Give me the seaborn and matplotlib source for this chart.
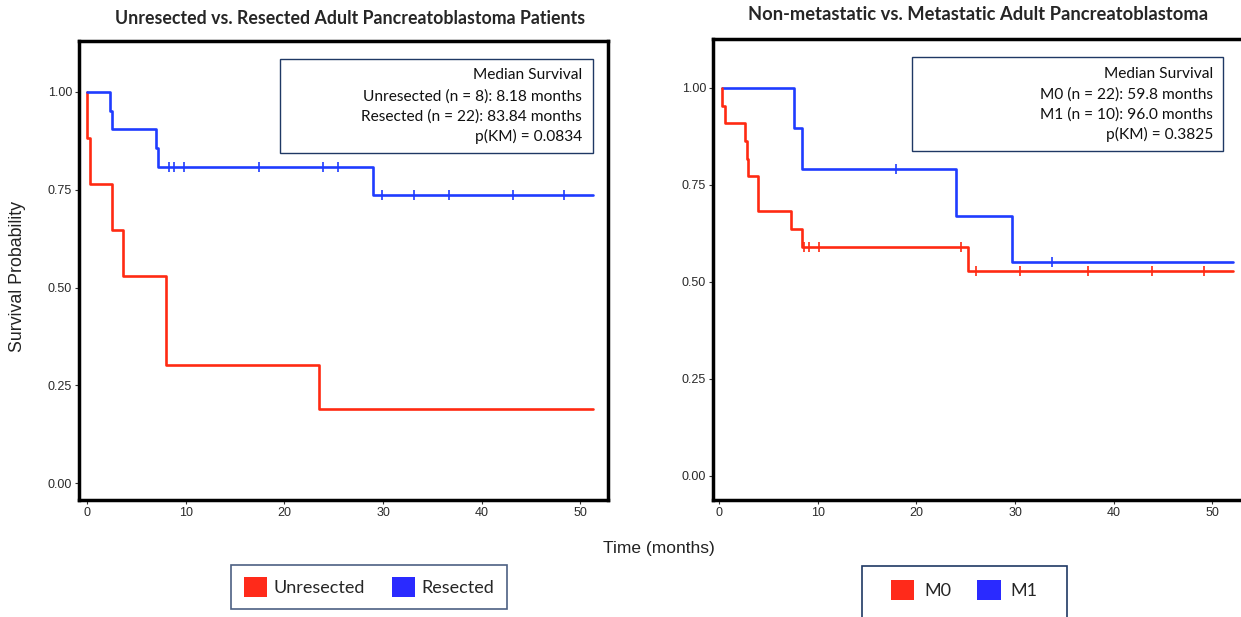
import numpy as np
import pandas as pd
import matplotlib
matplotlib.use("Agg")
import matplotlib.pyplot as plt
from matplotlib.patches import Patch, Rectangle
import seaborn as sns

# ---------------- data ----------------
# Left panel: Unresected vs Resected
unres_times = [0.0, 0.05, 0.3, 2.5, 3.6, 8.0, 23.5, 51.3]
unres_surv = [1.0, 0.882, 0.765, 0.647, 0.529, 0.303, 0.189, 0.189]
unres_cens_t = []
unres_cens_s = []

res_times = [0.0, 2.3, 2.55, 7.0, 7.2, 29.0, 51.3]
res_surv = [1.0, 0.952, 0.904, 0.856, 0.808, 0.736, 0.736]
res_cens_t = [8.3, 8.8, 9.8, 17.4, 23.9, 25.4, 29.9, 33.1, 36.7, 43.2, 48.3]
res_cens_s = [0.808, 0.808, 0.808, 0.808, 0.808, 0.808, 0.736, 0.736, 0.736, 0.736, 0.736]

# Right panel: M0 vs M1
m0_times = [0.3, 0.32, 0.6, 2.62, 2.8, 2.92, 3.95, 7.34, 8.4, 25.2, 52.1]
m0_surv = [1.0, 0.954, 0.909, 0.864, 0.818, 0.773, 0.682, 0.636, 0.591, 0.527, 0.527]
m0_cens_t = [8.67, 9.09, 10.14, 24.5, 26.0, 30.5, 37.4, 43.9, 49.1]
m0_cens_s = [0.591, 0.591, 0.591, 0.591, 0.527, 0.527, 0.527, 0.527, 0.527]

m1_times = [0.3, 7.62, 8.4, 24.0, 29.65, 52.1]
m1_surv = [1.0, 0.896, 0.791, 0.671, 0.551, 0.551]
m1_cens_t = [17.9, 33.7]
m1_cens_s = [0.791, 0.551]

left_title = "Unresected vs. Resected Adult Pancreatoblastoma Patients"
right_title = "Non-metastatic vs. Metastatic Adult Pancreatoblastoma"
left_box = ["Median Survival", "Unresected (n = 8): 8.18 months",
            "Resected (n = 22): 83.84 months", "p(KM) = 0.0834"]
right_box = ["Median Survival", "M0 (n = 22): 59.8 months",
             "M1 (n = 10): 96.0 months", "p(KM) = 0.3825"]
left_groups = ["Unresected", "Resected"]
right_groups = ["M0", "M1"]
x_ticks = [0, 10, 20, 30, 40, 50]
y_ticks = [0.0, 0.25, 0.5, 0.75, 1.0]

RED = "#ff2a12"
BLUE = "#1f3cff"
PATCH_RED = "#ff2a1a"
PATCH_BLUE = "#2a2aff"
BOX_EDGE = "#1f3864"

sns.set_theme(style="white")
plt.rcParams["font.family"] = ["Liberation Sans", "DejaVu Sans"]

fig = plt.figure(figsize=(12.41, 6.17), dpi=100)
axL = fig.add_axes([79 / 1241, 1 - 500 / 617, (608 - 79) / 1241, (500 - 41) / 617])
axR = fig.add_axes([713 / 1241, 1 - 500 / 617, (1246 - 713) / 1241, (500 - 39) / 617])


def draw_curve(ax, t, s, ct, cs, color):
    df = pd.DataFrame({"t": t, "s": s})
    sns.lineplot(data=df, x="t", y="s", ax=ax, color=color, linewidth=1.9,
                 drawstyle="steps-post", estimator=None, sort=False)
    if len(ct):
        cdf = pd.DataFrame({"t": ct, "s": cs})
        sns.scatterplot(data=cdf, x="t", y="s", ax=ax, marker="|", s=45,
                        color=color, linewidth=1.2, zorder=3)


draw_curve(axL, unres_times, unres_surv, unres_cens_t, unres_cens_s, RED)
draw_curve(axL, res_times, res_surv, res_cens_t, res_cens_s, BLUE)
draw_curve(axR, m1_times, m1_surv, m1_cens_t, m1_cens_s, BLUE)
draw_curve(axR, m0_times, m0_surv, m0_cens_t, m0_cens_s, RED)

for ax, xl, yl in [(axL, (-0.81, 52.8), (-0.043, 1.13)),
                   (axR, (-0.6, 53.4), (-0.062, 1.126))]:
    ax.set_xlim(*xl)
    ax.set_ylim(*yl)
    ax.set_xticks(x_ticks)
    ax.set_yticks(y_ticks)
    ax.set_yticklabels([f"{v:.2f}" for v in y_ticks])
    ax.set_xlabel("")
    ax.set_ylabel("")
    ax.tick_params(axis="both", which="both", direction="out", length=3, width=0.8,
                   color="#333333", labelsize=9, labelcolor="#2a2a2a",
                   bottom=True, left=True, pad=2)
    for sp in ax.spines.values():
        sp.set_visible(True)
        sp.set_color("black")
        sp.set_linewidth(2.5)
    ax.grid(False)

axR.spines["right"].set_visible(False)

# titles
fig.text(350 / 1241, 1 - 18 / 617, left_title, ha="center", va="center",
         fontsize=12.8, fontweight="bold", family=["Lato", "DejaVu Sans"])
fig.text(978 / 1241, 1 - 15 / 617, right_title, ha="center", va="center",
         fontsize=13.2, fontweight="bold", family=["Lato", "DejaVu Sans"])

# axis labels
fig.text(18 / 1241, 1 - 277 / 617, "Survival Probability", rotation=90,
         ha="center", va="center", fontsize=12.8, color="#222222")
fig.text(659 / 1241, 1 - 549 / 617, "Time (months)", ha="center", va="center",
         fontsize=12.5, color="#222222")


# annotation boxes
def annot(ax, x0, x1, xr, lines):
    ax.add_patch(Rectangle((x0, 0.757), x1 - x0, 0.96 - 0.757, transform=ax.transAxes,
                           facecolor="white", edgecolor=BOX_EDGE, linewidth=1.0, zorder=4))
    ys = [0.925, 0.880, 0.836, 0.792]
    for y, txt in zip(ys, lines):
        ax.text(xr, y, txt, transform=ax.transAxes, ha="right", va="center",
                fontsize=11.2, color="#111111", family=["Lato", "DejaVu Sans"], zorder=5)


annot(axL, (280 - 79) / 529, (593 - 79) / 529, (582 - 79) / 529, left_box)
annot(axR, (912 - 713) / 533, (1223 - 713) / 533, (1213 - 713) / 533, right_box)

# legends
hl = [Patch(facecolor=PATCH_RED, edgecolor="none", label=left_groups[0]),
      Patch(facecolor=PATCH_BLUE, edgecolor="none", label=left_groups[1])]
legL = fig.legend(handles=hl, loc="center", bbox_to_anchor=(369 / 1241, 1 - 587 / 617),
                  ncol=2, frameon=True, fancybox=False,
                  handlelength=1.3, handleheight=1.3, columnspacing=1.5,
                  borderpad=0.7, handletextpad=0.35,
                  prop={"family": ["Lato", "DejaVu Sans"], "size": 13})
legL.get_frame().set_edgecolor(BOX_EDGE)
legL.get_frame().set_linewidth(1.2)

hr = [Patch(facecolor=PATCH_RED, edgecolor="none", label=right_groups[0]),
      Patch(facecolor=PATCH_BLUE, edgecolor="none", label=right_groups[1])]
legR = fig.legend(handles=hr, loc="center", bbox_to_anchor=(964 / 1241, 1 - 590 / 617),
                  ncol=2, frameon=False,
                  handlelength=1.3, handleheight=1.3, columnspacing=1.45,
                  borderpad=0.0, handletextpad=0.55, borderaxespad=0,
                  prop={"family": ["Lato", "DejaVu Sans"], "size": 13})
fig.add_artist(Rectangle((862 / 1241, -0.02), (1067 - 862) / 1241, (617 - 566) / 617 + 0.02,
                         transform=fig.transFigure, facecolor="none",
                         edgecolor=BOX_EDGE, linewidth=1.2, zorder=1))

fig.savefig("out.png", dpi=100, facecolor="white")
